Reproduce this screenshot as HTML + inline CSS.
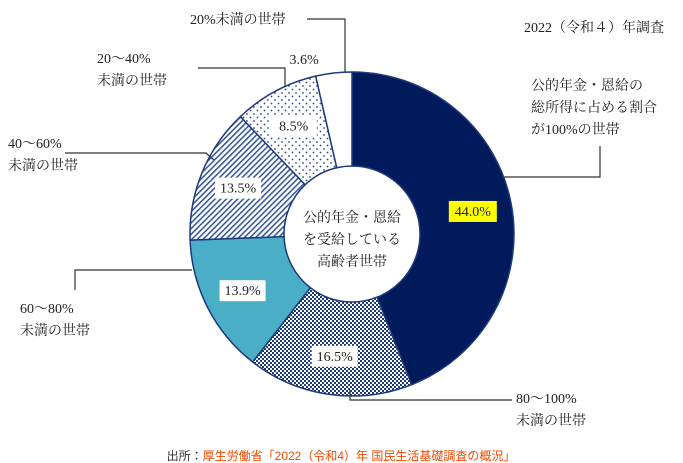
<!DOCTYPE html>
<html><head><meta charset="utf-8">
<style>
html,body{margin:0;padding:0;background:#fff;}
svg{display:block;}
text{font-family:"Liberation Serif","Noto Serif CJK SC",serif;font-size:14px;fill:#222;}
.foot{font-family:"Liberation Sans","Noto Sans CJK JP",sans-serif;font-size:12px;}
</style></head><body>
<svg id="chart" width="683" height="463" viewBox="0 0 683 463" xmlns="http://www.w3.org/2000/svg">
<defs>
<pattern id="pChk" width="4" height="4" patternUnits="userSpaceOnUse"><rect width="4" height="4" fill="#fff"/><rect width="2" height="2" fill="#1d3a7a"/><rect x="2" y="2" width="2" height="2" fill="#1d3a7a"/></pattern>
<pattern id="pDiag" width="4" height="4" patternUnits="userSpaceOnUse" patternTransform="rotate(45)"><rect width="4" height="4" fill="#fff"/><rect width="1.6" height="4" fill="#3a5a9a"/></pattern>
<pattern id="pDot" width="7" height="7" patternUnits="userSpaceOnUse"><rect width="7" height="7" fill="#fff"/><circle cx="2" cy="2" r="0.9" fill="#2a4a8a"/><circle cx="5.5" cy="5.5" r="0.9" fill="#2a4a8a"/></pattern>
</defs>
<g id="slices"></g>
<g id="labels"></g>
<text x="524" y="32">2022（令和４）年調査</text>
<g>
<text x="352" y="222" text-anchor="middle" font-size="15">公的年金・恩給</text>
<text x="352" y="244" text-anchor="middle" font-size="15">を受給している</text>
<text x="352" y="266" text-anchor="middle" font-size="15">高齢者世帯</text>
</g>
<g fill="none" stroke="#333" stroke-width="1.2">
<polyline points="307,19 345,19 345,72"/>
<polyline points="198,68 285,68 285,86"/>
<polyline points="65,153 206,153 214,160"/>
<polyline points="75,290 75,270 192,270"/>
<polyline points="350,390 350,400 512,400"/>
<polyline points="502,177 600,177 600,146"/>
</g>
<text x="190" y="24">20%未満の世帯</text>
<text x="97" y="63">20～40%</text>
<text x="97" y="85">未満の世帯</text>
<text x="8" y="148">40～60%</text>
<text x="8" y="170">未満の世帯</text>
<text x="20" y="313">60～80%</text>
<text x="20" y="335">未満の世帯</text>
<text x="516" y="403">80～100%</text>
<text x="516" y="425">未満の世帯</text>
<text x="531" y="90">公的年金・恩給の</text>
<text x="531" y="112">総所得に占める割合</text>
<text x="531" y="134">が100%の世帯</text>
<text x="341" y="460" text-anchor="middle" class="foot"><tspan style="fill:#333">出所：</tspan><tspan style="fill:#f04a00">厚生労働省「2022（令和4）年 国民生活基礎調査の概況」</tspan></text>
</svg>
<script>
const categories = ["100%","80～100%","60～80%","40～60%","20～40%","20%未満"];
const values = [44.0, 16.5, 13.9, 13.5, 8.5, 3.6];
const valueLabels = ["44.0%","16.5%","13.9%","13.5%","8.5%","3.6%"];
const fills = ["#001a5c","url(#pChk)","#4aaec6","url(#pDiag)","url(#pDot)","#fff"];
const cx=352, cy=234, R=162, r=68;
const NS="http://www.w3.org/2000/svg";
const total=values.reduce((a,b)=>a+b,0);
function pt(rad,a){return [cx+rad*Math.sin(a), cy-rad*Math.cos(a)];}
const gS=document.getElementById('slices'), gL=document.getElementById('labels');
let acc=0;
values.forEach((v,i)=>{
  const a0=acc/total*2*Math.PI; acc+=v; const a1=acc/total*2*Math.PI;
  const large=(a1-a0)>Math.PI?1:0;
  const [x0,y0]=pt(R,a0),[x1,y1]=pt(R,a1),[x2,y2]=pt(r,a1),[x3,y3]=pt(r,a0);
  const p=document.createElementNS(NS,'path');
  p.setAttribute('d',`M${x0},${y0} A${R},${R} 0 ${large} 1 ${x1},${y1} L${x2},${y2} A${r},${r} 0 ${large} 0 ${x3},${y3} Z`);
  p.setAttribute('fill',fills[i]); p.setAttribute('stroke','#1d3a7a'); p.setAttribute('stroke-width','1.5');
  
  
  gS.appendChild(p);
  const am=(a0+a1)/2;
  let [lx,ly]= i===5 ? pt(R+14,am) : pt((R+r)/2+8,am);
  if(i===5){lx=lx-28;}
  const t=document.createElementNS(NS,'text');
  t.setAttribute('x',lx); t.setAttribute('y',ly+5); t.setAttribute('text-anchor','middle');
  t.setAttribute('font-size','15');
  t.textContent=valueLabels[i];
  
  
  if(i!==5){
    const w=i===0?48:46;
    const b=document.createElementNS(NS,'rect');
    b.setAttribute('x',lx-w/2); b.setAttribute('y',ly-10); b.setAttribute('width',w); b.setAttribute('height',21);
    b.setAttribute('fill',i===0?'#ffff00':'#fff');
    
    
    gL.appendChild(b);
  }
  gL.appendChild(t);
});
</script>
</body></html>
